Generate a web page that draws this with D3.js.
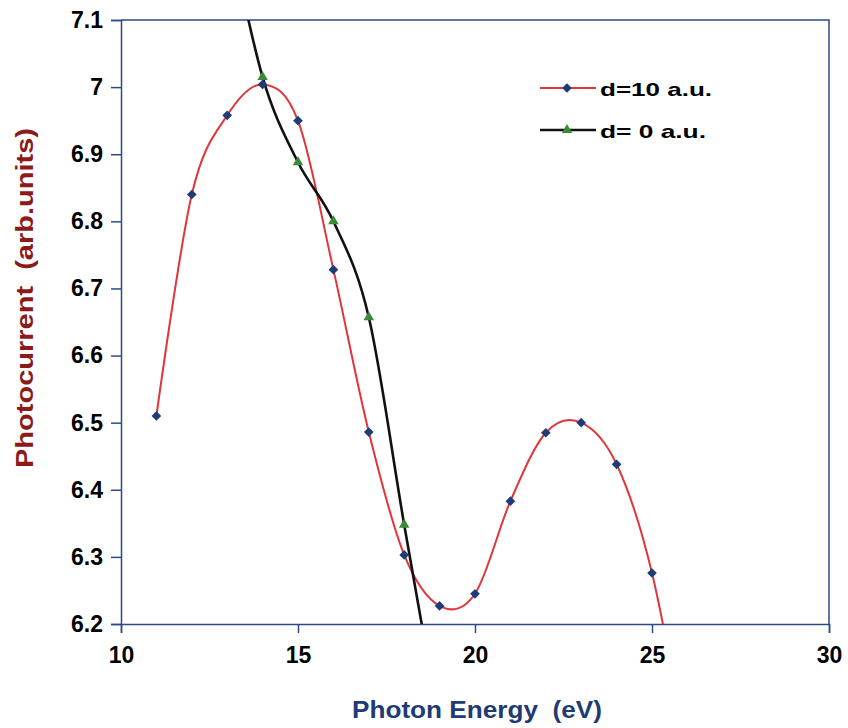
<!DOCTYPE html>
<html>
<head>
<meta charset="utf-8">
<script src="https://cdn.jsdelivr.net/npm/d3@7"></script>
<style>
  body { margin: 0; background: #fff; }
  svg text { font-family: "Liberation Sans", Arial, sans-serif; font-weight: bold; }
</style>
</head>
<body>
<div id="chart"></div>
<script>
// photon energy (eV) and photocurrent readings
// points at 13 / 19 (black) and 26 (red) sit outside the frame, the lines run into them
let energyD10 = [11, 12, 13, 14, 15, 16, 17, 18, 19, 20, 21, 22, 23, 24, 25, 26];
let currentD10 = [6.51, 6.84, 6.958, 7.004, 6.95, 6.728, 6.486, 6.303, 6.227, 6.245, 6.383, 6.485, 6.5, 6.438, 6.276, 6.0];
let energyD0 = [13, 14, 15, 16, 17, 18, 19];
let currentD0 = [7.25, 7.015, 6.888, 6.80, 6.657, 6.348, 6.05];

let xTicks = [10, 15, 20, 25, 30];
let yTicks = [6.2, 6.3, 6.4, 6.5, 6.6, 6.7, 6.8, 6.9, 7, 7.1];
let seriesNames = ["d=10 a.u.", "d= 0 a.u."];

let width = 848, height = 728;
let margin = {top: 20, right: 19, bottom: 104, left: 121};
let axisColor = "#2c4a8a";

let svg = d3.select("#chart").append("svg")
    .attr("width", width)
    .attr("height", height);

let x = d3.scaleLinear().domain([10, 30]).range([margin.left, width - margin.right]);
let y = d3.scaleLinear().domain([6.2, 7.1]).range([height - margin.bottom, margin.top]);

svg.append("clipPath")
    .attr("id", "plot-clip")
    .append("rect")
    .attr("x", margin.left)
    .attr("y", margin.top)
    .attr("width", width - margin.left - margin.right)
    .attr("height", height - margin.top - margin.bottom);

// frame (top and right edges of the plot area)
svg.append("path")
    .attr("d", `M${x(10)},${y(7.1)}H${x(30)}V${y(6.2)}`)
    .attr("fill", "none")
    .attr("stroke", axisColor)
    .attr("stroke-width", 1.5);

// x axis
let xAxis = svg.append("g")
    .attr("transform", `translate(0,${y(6.2)})`)
    .call(d3.axisBottom(x).tickValues(xTicks).tickSize(9).tickPadding(14));
xAxis.select(".domain").attr("stroke", axisColor).attr("stroke-width", 1.5);
xAxis.selectAll(".tick line").attr("stroke", axisColor).attr("stroke-width", 1.5);
xAxis.selectAll(".tick text")
    .attr("fill", "#000")
    .style("font-size", "23px");

// y axis
let yAxis = svg.append("g")
    .attr("transform", `translate(${x(10)},0)`)
    .call(d3.axisLeft(y).tickValues(yTicks).tickSize(10).tickPadding(8)
        .tickFormat(d => d3.format("~g")(d)));
yAxis.select(".domain").attr("stroke", axisColor).attr("stroke-width", 1.5);
yAxis.selectAll(".tick line").attr("stroke", axisColor).attr("stroke-width", 1.5);
yAxis.selectAll(".tick text")
    .attr("fill", "#000")
    .style("font-size", "23px");

// axis titles
svg.append("text")
    .attr("x", 352)
    .attr("y", 718)
    .attr("fill", "#1f3b73")
    .attr("textLength", 250)
    .attr("lengthAdjust", "spacingAndGlyphs")
    .style("font-size", "24px")
    .style("white-space", "pre")
    .text("Photon Energy  (eV)");

svg.append("text")
    .attr("transform", "translate(33,468) rotate(-90)")
    .attr("fill", "#8b1a1a")
    .attr("textLength", 340)
    .attr("lengthAdjust", "spacingAndGlyphs")
    .style("font-size", "23px")
    .style("white-space", "pre")
    .text("Photocurrent  (arb.units)");

// series
let line = d3.line()
    .x(d => x(d[0]))
    .y(d => y(d[1]))
    .curve(d3.curveCatmullRom.alpha(0));

let redData = energyD10.map((e, i) => [e, currentD10[i]]);
let blackData = energyD0.map((e, i) => [e, currentD0[i]]);

let plot = svg.append("g").attr("clip-path", "url(#plot-clip)");

plot.append("path")
    .attr("d", line(redData))
    .attr("fill", "none")
    .attr("stroke", "#e0363a")
    .attr("stroke-width", 2);

plot.append("path")
    .attr("d", line(blackData))
    .attr("fill", "none")
    .attr("stroke", "#111")
    .attr("stroke-width", 2.6);

let diamond = d3.symbol().type(d3.symbolDiamond2).size(60);
let triangle = d3.symbol().type(d3.symbolTriangle).size(48);

plot.selectAll(".dot-d10")
    .data(redData)
    .enter()
    .append("path")
    .attr("class", "dot-d10")
    .attr("transform", d => `translate(${x(d[0])},${y(d[1])})`)
    .attr("d", diamond)
    .attr("fill", "#1d3d78");

plot.selectAll(".dot-d0")
    .data(blackData)
    .enter()
    .append("path")
    .attr("class", "dot-d0")
    .attr("transform", d => `translate(${x(d[0])},${y(d[1])})`)
    .attr("d", triangle)
    .attr("fill", "#3a8a3a");

// legend
let legend = svg.append("g");
let legendRows = [
    {name: seriesNames[0], y: 88, stroke: "#e0363a", sw: 2, marker: diamond, fill: "#1d3d78"},
    {name: seriesNames[1], y: 130, stroke: "#111", sw: 2.6, marker: triangle, fill: "#3a8a3a"}
];
legendRows.forEach(r => {
    legend.append("line")
        .attr("x1", 540).attr("x2", 596)
        .attr("y1", r.y).attr("y2", r.y)
        .attr("stroke", r.stroke)
        .attr("stroke-width", r.sw);
    legend.append("path")
        .attr("transform", `translate(567,${r.y})`)
        .attr("d", r.marker)
        .attr("fill", r.fill);
    legend.append("text")
        .attr("x", 600)
        .attr("y", r.y + 8)
        .attr("fill", "#000")
        .attr("textLength", r.name === seriesNames[0] ? 112 : 106)
        .attr("lengthAdjust", "spacingAndGlyphs")
        .style("font-size", "19px")
        .style("white-space", "pre")
        .text(r.name);
});
</script>
</body>
</html>
